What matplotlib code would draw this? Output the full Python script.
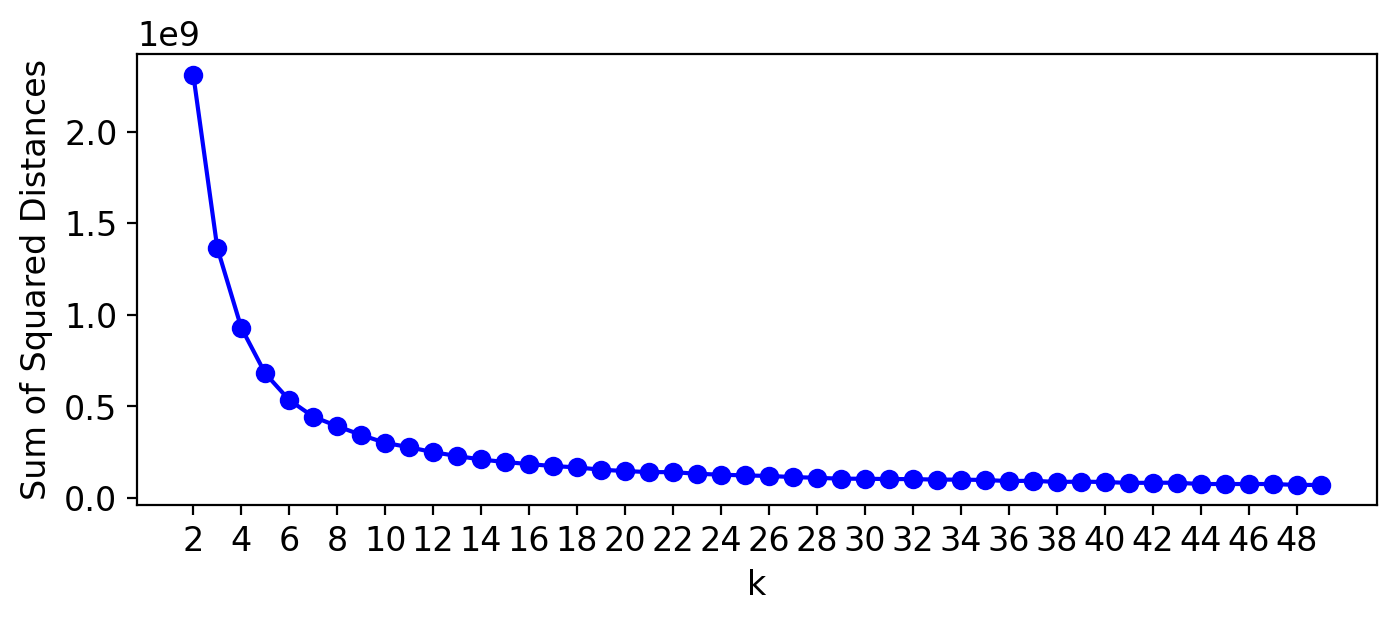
import numpy as np
import matplotlib

matplotlib.use("Agg")
import matplotlib.pyplot as plt

plt.rcParams.update({"font.size": 12})

# elbow curve: k vs sum of squared distances
k_values = list(range(2, 50))
ssd = [2.312, 1.366, 0.930, 0.680, 0.535, 0.444, 0.392, 0.344, 0.301, 0.277,
       0.250, 0.229, 0.210, 0.196, 0.185, 0.174, 0.167, 0.154, 0.147, 0.141,
       0.141, 0.132, 0.127, 0.123, 0.120, 0.114, 0.110, 0.105, 0.105, 0.103,
       0.103, 0.100, 0.100, 0.098, 0.092, 0.094, 0.087, 0.089, 0.087, 0.082,
       0.083, 0.083, 0.076, 0.076, 0.076, 0.076, 0.071, 0.071]
ssd = np.array(ssd) * 1e9
xticks = list(range(2, 50, 2))

fig, ax = plt.subplots(figsize=(8, 2.93))
ax.plot(k_values, ssd, "bo-")
ax.set_xticks(xticks)
ax.set_xlabel("k")
ax.set_ylabel("Sum of Squared Distances")
fig.savefig("out.png", dpi=200, bbox_inches="tight")
plt.close(fig)
